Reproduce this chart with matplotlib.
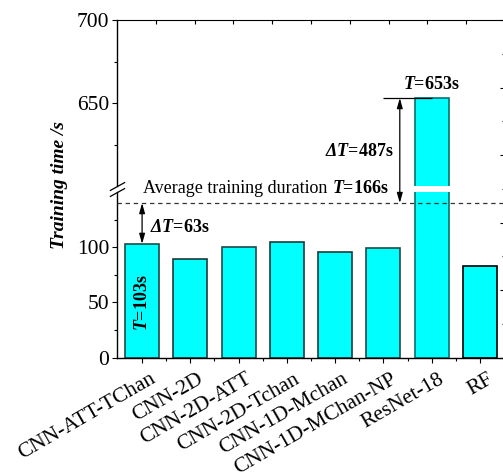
import matplotlib
matplotlib.use("Agg")
import matplotlib.pyplot as plt
from matplotlib.ticker import MultipleLocator, FixedLocator, NullFormatter

# Datos
models = ["CNN-ATT-TChan", "CNN-2D", "CNN-2D-ATT", "CNN-2D-Tchan",
          "CNN-1D-Mchan", "CNN-1D-MChan-NP", "ResNet-18", "RF"]
train_time = [103, 89, 100, 105, 96, 99, 653, 83]
edge_cols = ["#1d4a4a", "#1d3a3a", "#1d4a4a", "#1d3a3a",
             "#1d3a3a", "#1d4a4a", "#0a7070", "#000000"]
avg_time = 166
avg_line_y = 140   # donde queda dibujada la línea media en el eje inferior
delta_ours = 63
delta_resnet = 487

plt.rcParams['font.family'] = ['Liberation Serif', 'DejaVu Serif']
plt.rcParams['mathtext.fontset'] = 'custom'
plt.rcParams['mathtext.rm'] = 'Liberation Serif'
plt.rcParams['mathtext.it'] = 'Liberation Serif:italic'
plt.rcParams['mathtext.bf'] = 'Liberation Serif:bold'
plt.rcParams['mathtext.bfit'] = 'Liberation Serif:italic:bold'

W, H = 503, 473
fig = plt.figure(figsize=(W / 100, H / 100), dpi=100)


def rect(x0, y0, x1, y1):
    # caja en píxeles -> fracción de figura
    return [x0 / W, 1 - y1 / H, (x1 - x0) / W, (y1 - y0) / H]


ax_up = fig.add_axes(rect(117, 20, 505, 186))
ax_lo = fig.add_axes(rect(117, 192, 505, 357.7))
frame = fig.add_axes(rect(117, 20, 505, 357.7), zorder=3)
frame.patch.set_visible(False)

x = list(range(len(models)))
for ax in (ax_up, ax_lo):
    ax.bar(x, train_time, width=0.7, color="#00FFFF",
           edgecolor=edge_cols, linewidth=1.2, zorder=2)
    ax.set_xlim(-0.52, len(models) - 0.48)
    ax.spines['right'].set_visible(False)
    ax.spines['top'].set_visible(False)
    ax.spines['left'].set_linewidth(1.0)
    ax.tick_params(axis='y', which='major', direction='out', length=5 * 0.72,
                   width=0.8, labelsize=15.5, pad=2)
    ax.tick_params(axis='y', which='minor', direction='out', length=3 * 0.72,
                   width=0.8)

ax_up.set_ylim(600, 700)
ax_up.yaxis.set_major_locator(FixedLocator([650, 700]))
ax_up.yaxis.set_minor_locator(FixedLocator([625, 675]))
ax_up.spines['bottom'].set_visible(False)
ax_up.tick_params(axis='x', which='both', bottom=False, labelbottom=False)

ax_lo.set_ylim(0, 150)
ax_lo.yaxis.set_major_locator(FixedLocator([0, 50, 100]))
ax_lo.yaxis.set_minor_locator(FixedLocator([25, 75, 125]))
ax_lo.set_xticks(x)
ax_lo.set_xticklabels([])
ax_lo.xaxis.set_minor_locator(FixedLocator([i + 0.5 for i in x[:-1]]))
ax_lo.tick_params(axis='x', which='major', direction='out', length=5 * 0.72,
                  width=0.8)
ax_lo.tick_params(axis='x', which='minor', direction='out', length=3 * 0.72,
                  width=0.8)
ax_lo.spines['bottom'].set_linewidth(1.0)

# etiquetas de categoría giradas 30°
for i, name in zip(x, models):
    ax_lo.annotate(name, xy=(i, 0), xycoords=('data', 'axes fraction'),
                   xytext=(5, -8.5), textcoords='offset points', rotation=30,
                   ha='right', va='top', rotation_mode='anchor', fontsize=15.5)

# marco superior y derecho con sus propias marcas
frame.set_xlim(0, 10)
frame.set_ylim(0, 5)
frame.spines['left'].set_visible(False)
frame.spines['bottom'].set_visible(False)
frame.xaxis.tick_top()
frame.yaxis.tick_right()
frame.xaxis.set_major_locator(FixedLocator(range(1, 10)))
frame.yaxis.set_major_locator(MultipleLocator(1))
frame.yaxis.set_minor_locator(MultipleLocator(0.5))
frame.xaxis.set_major_formatter(NullFormatter())
frame.yaxis.set_major_formatter(NullFormatter())
frame.tick_params(axis='x', which='major', direction='in', length=3,
                  width=0.8)
frame.tick_params(axis='y', which='major', direction='in', length=3.6,
                  width=0.8)
frame.tick_params(axis='y', which='minor', direction='in', length=2,
                  width=0.8)

# símbolo de corte en el eje izquierdo
brk = dict(marker=[(-1, -0.55), (1, 0.55)], markersize=11, linestyle='none',
           color='k', mec='k', mew=0.9, clip_on=False)
ax_lo.plot([0], [1], transform=ax_lo.transAxes, **brk)
ax_up.plot([0], [0], transform=ax_up.transAxes, **brk)

# línea de duración media
ax_lo.axhline(avg_line_y, color='#333333', lw=0.9, ls=(0, (3.5, 3)), zorder=3)
t1 = ax_lo.text(0.02, 153.5, "Average training duration", fontsize=13,
                va='center', ha='left', clip_on=False)
ax_lo.annotate(r"$\mathbfit{T}$=%ds" % avg_time, xy=(1, 0.5), xycoords=t1,
               xytext=(3, 0), textcoords='offset points', va='center',
               ha='left', fontsize=13, fontweight='bold')

arrow = dict(arrowstyle='<|-|>,head_length=0.6,head_width=0.17',
             color='k', lw=0.9, shrinkA=0, shrinkB=0)

# modelo propuesto
ax_lo.annotate('', xy=(0, train_time[0]), xytext=(0, avg_line_y),
               arrowprops=arrow, annotation_clip=False)
ax_lo.text(0.16, 117.5, r"$\mathbfit{\Delta T}$=%ds" % delta_ours, fontsize=13,
           fontweight='bold', ha='left', va='center')
ax_lo.text(0, 50, r"$\mathbfit{T}$=%ds" % train_time[0], fontsize=13,
           fontweight='bold', ha='center', va='center', rotation=90)

# ResNet-18
ax_up.hlines(train_time[6], 5.0, 6.0, color='k', lw=0.9)
ax_lo.annotate('', xy=(5.34, avg_line_y), xycoords=ax_lo.transData,
               xytext=(5.34, train_time[6]), textcoords=ax_up.transData,
               arrowprops=arrow, annotation_clip=False)
ax_up.text(6, 656, r"$\mathbfit{T}$=%ds" % train_time[6], fontsize=13,
           fontweight='bold', ha='center', va='bottom')
ax_up.text(5.22, 620.5, r"$\mathbfit{\Delta T}$=%ds" % delta_resnet,
           fontsize=13, fontweight='bold', ha='right', va='center')

fig.text(60 / W, 1 - 185 / H, "Training time /s", rotation=90, fontsize=14,
         fontweight='bold', fontstyle='italic', ha='center', va='center')

fig.savefig("out.png", dpi=100)
